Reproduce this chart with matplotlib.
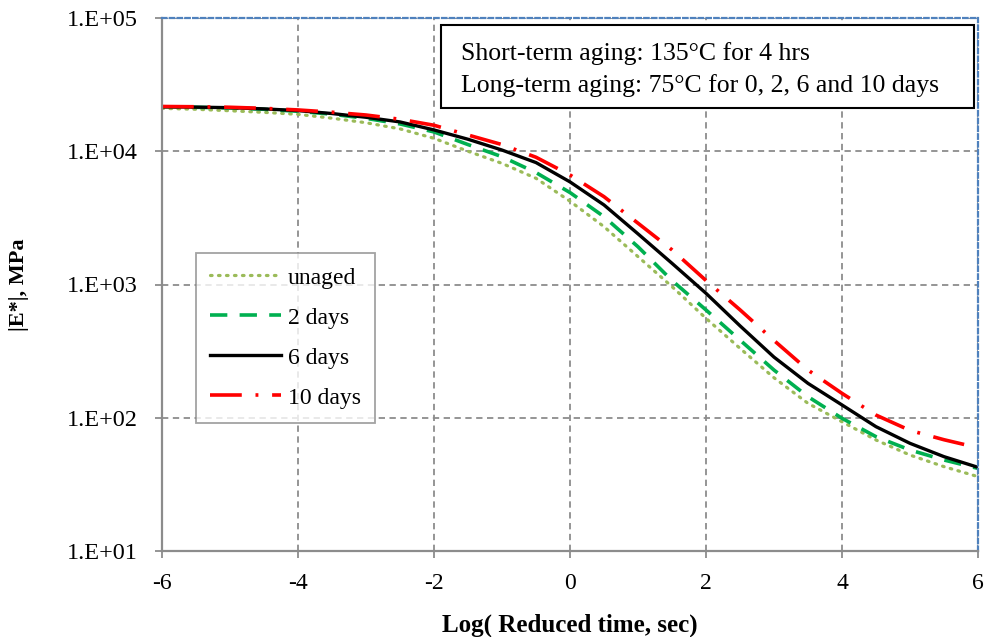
import numpy as np
import matplotlib
matplotlib.use("Agg")
import matplotlib.pyplot as plt
from matplotlib.patches import Rectangle
from matplotlib.ticker import FixedLocator, FuncFormatter

plt.rcParams['font.family'] = ['Liberation Serif', 'DejaVu Serif']
plt.rcParams['axes.unicode_minus'] = False

# log reduced time (x) and log10 |E*| (MPa)
log_t = [-6, -5.5, -5, -4.5, -4, -3.5, -3, -2.5, -2, -1.5, -1, -0.5, 0,
         0.5, 1, 1.5, 2, 2.5, 3, 3.5, 4, 4.5, 5, 5.5, 6]

unaged = [4.322, 4.315, 4.304, 4.292, 4.277, 4.248, 4.214, 4.168, 4.097, 4.0,
          3.909, 3.797, 3.625, 3.434, 3.209, 2.984, 2.746, 2.521, 2.30, 2.108,
          1.97, 1.833, 1.72, 1.633, 1.558]
days2 = [4.334, 4.33, 4.325, 4.315, 4.30, 4.278, 4.247, 4.205, 4.145, 4.05,
         3.959, 3.84, 3.69, 3.509, 3.283, 3.03, 2.809, 2.583, 2.358, 2.158,
         1.996, 1.858, 1.758, 1.683, 1.62]
days6 = [4.334, 4.331, 4.327, 4.318, 4.305, 4.283, 4.255, 4.22, 4.16, 4.09,
         4.009, 3.915, 3.77, 3.597, 3.38, 3.159, 2.934, 2.69, 2.455, 2.258,
         2.096, 1.933, 1.808, 1.708, 1.628]
days10 = [4.336, 4.334, 4.33, 4.322, 4.31, 4.293, 4.272, 4.24, 4.195, 4.122,
          4.05, 3.955, 3.822, 3.659, 3.46, 3.26, 3.03, 2.81, 2.58, 2.358,
          2.183, 2.02, 1.905, 1.835, 1.775]

labels = ["unaged", "2 days", "6 days", "10 days"]
xticks = [-6, -4, -2, 0, 2, 4, 6]
yticks = [1e1, 1e2, 1e3, 1e4, 1e5]
note_lines = ["Short-term aging: 135\u00b0C for 4 hrs",
              "Long-term aging: 75\u00b0C for 0, 2, 6 and 10 days"]

fig = plt.figure(figsize=(9.87, 6.37), dpi=100)
ax = fig.add_axes([162/987, 1 - 551/637, (978-162)/987, (551-18)/637])

x = np.array(log_t)
ax.plot(x, 10**np.array(unaged), color="#9BBB59", lw=2.3,
        linestyle=(0, (0.5, 2.0)), dash_capstyle="round", label=labels[0])
ax.plot(x, 10**np.array(days2), color="#00B050", lw=2.6,
        linestyle=(0, (4.8, 3.4)), label=labels[1])
ax.plot(x, 10**np.array(days6), color="black", lw=2.4,
        linestyle="-", label=labels[2])
ax.plot(x, 10**np.array(days10), color="#FF0000", lw=2.6,
        linestyle=(0, (8.8, 3.8, 0.8, 3.8)), label=labels[3])

ax.set_yscale("log")
ax.set_xlim(-6, 6)
ax.set_ylim(10, 1e5)
ax.set_xticks(xticks)
ax.yaxis.set_major_locator(FixedLocator(yticks))
ax.yaxis.set_minor_locator(FixedLocator([]))
ax.yaxis.set_major_formatter(FuncFormatter(lambda v, p: "1.E+%02d" % int(round(np.log10(v)))))

ax.grid(True, which="major", color="#8C8C8C", linestyle=(0, (3.5, 2.5)), lw=1.3)
ax.set_axisbelow(True)
ax.tick_params(axis="both", which="major", direction="out", length=5,
               width=1.3, color="#8C8C8C")
ax.tick_params(axis="y", labelsize=17.5, pad=12.5)
ax.tick_params(axis="x", labelsize=17, pad=11)

for s in ["left", "bottom"]:
    ax.spines[s].set_color("#8C8C8C")
    ax.spines[s].set_linewidth(1.6)
for s in ["top", "right"]:
    ax.spines[s].set_color("#4F81BD")
    ax.spines[s].set_linewidth(1.6)
    ax.spines[s].set_linestyle((0, (2, 1.5)))

ax.set_xlabel("Log( Reduced time, sec)", fontsize=18, fontweight="bold")
ax.set_ylabel("|E*|, MPa", fontsize=16, fontweight="bold")
ax.xaxis.set_label_coords(0.5, -0.117)
ax.yaxis.set_label_coords(-0.163, 0.5)

leg = ax.legend(loc="upper left", bbox_to_anchor=(0.0417, 0.559), fontsize=17,
                frameon=True, fancybox=False, handlelength=3.0, handletextpad=0.3,
                labelspacing=0.78, borderpad=0.6, borderaxespad=0)
leg.get_frame().set_edgecolor("#8C8C8C")
leg.get_frame().set_linewidth(1.3)

ax.add_patch(Rectangle((0.3419, 0.8311), 0.9951 - 0.3419, 0.9869 - 0.8311,
                       transform=ax.transAxes, fc="white", ec="black", lw=1.5, zorder=5))
ax.text(0.3664, 0.9212, note_lines[0], transform=ax.transAxes, fontsize=18.5,
        va="baseline", ha="left", zorder=6)
ax.text(0.3664, 0.8617, note_lines[1], transform=ax.transAxes, fontsize=18.5,
        va="baseline", ha="left", zorder=6)

fig.savefig("out.png", dpi=100)
